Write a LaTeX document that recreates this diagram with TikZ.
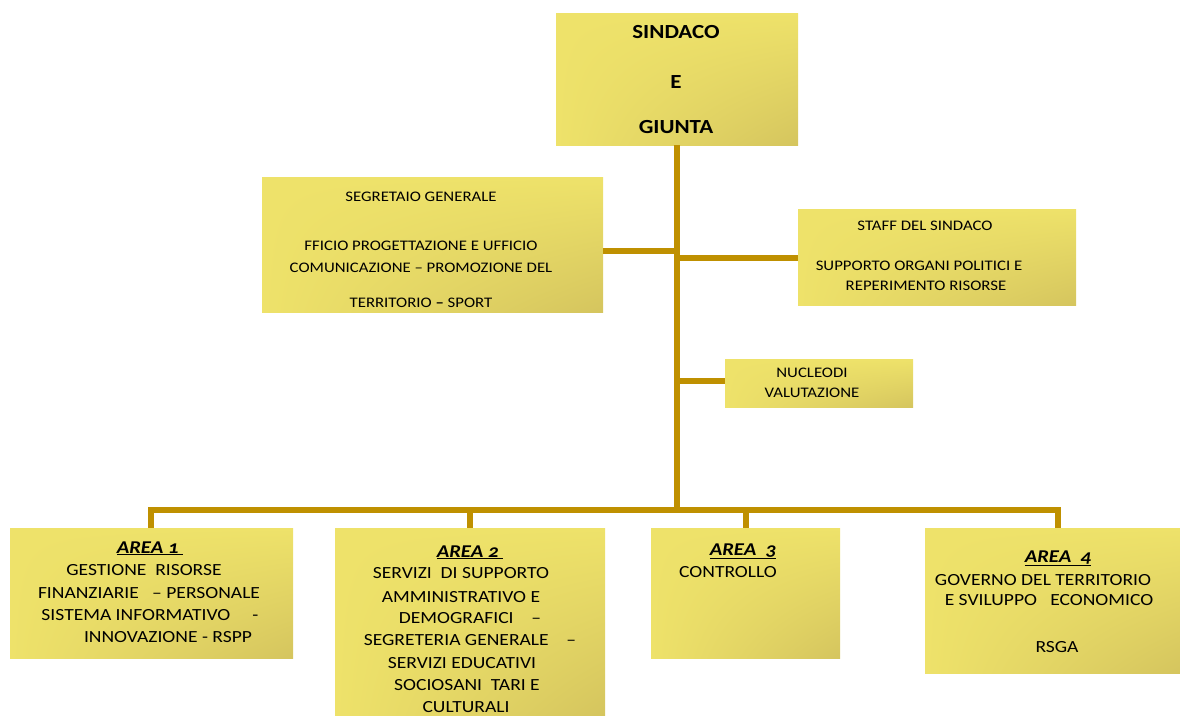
\documentclass[tikz,border=0pt]{standalone}
\usepackage{fontspec}
\setmainfont[FakeStretch=1.15]{Carlito}
\usepackage{tikz}
\usetikzlibrary{shadings}

\definecolor{linkgold}{HTML}{BF9000}
\definecolor{boxlight}{HTML}{EEE26A}
\definecolor{boxdark}{HTML}{D5C55E}

\tikzset{
  orgbox/.style={rectangle, inner sep=0pt, upper left=boxlight, upper right=boxlight,
    lower left=boxlight, lower right=boxdark},
  link/.style={draw=linkgold, line width=6pt, line join=miter},
  small/.style={anchor=base, inner sep=0pt, font=\fontsize{14.6}{16}\selectfont},
  areatxt/.style={anchor=base, inner sep=0pt, font=\fontsize{17}{19}\selectfont},
  areahead/.style={anchor=base, inner sep=0pt,
    font=\fontsize{18}{20}\selectfont\bfseries\itshape\addfontfeature{Numbers=OldStyle}}
}

\begin{document}
\begin{tikzpicture}[x=1pt,y=-1pt]

\useasboundingbox (0,0) rectangle (1180,715);

% connectors first, boxes on top
\coordinate (bus) at (677,510);
\coordinate (jsegr) at (677,251);
\coordinate (jstaff) at (677,258);
\coordinate (jnuc) at (677,381);

% boxes
\node[orgbox, minimum width=242pt, minimum height=132pt] (sindaco) at (677,79) {};
\node[orgbox, minimum width=341pt, minimum height=135pt] (segr) at (432.5,244.5) {};
\node[orgbox, minimum width=278pt, minimum height=96pt] (staff) at (937,257) {};
\node[orgbox, minimum width=188pt, minimum height=48pt] (nucleo) at (819,383) {};
\node[orgbox, minimum width=283pt, minimum height=130pt] (area1) at (151.5,593) {};
\node[orgbox, minimum width=270pt, minimum height=187pt] (area2) at (470,621.5) {};
\node[orgbox, minimum width=189pt, minimum height=130pt] (area3) at (745.5,593) {};
\node[orgbox, minimum width=255pt, minimum height=145pt] (area4) at (1052.5,600.5) {};

\draw[link] (sindaco.south) -- (bus);
\draw[link] (jsegr) -- (jsegr -| segr.east);
\draw[link] (jstaff) -- (jstaff -| staff.west);
\draw[link] (jnuc) -- (jnuc -| nucleo.west);
\draw[link] (area1.north -| 151,0) |- (bus) -| (area4.north -| 1058,0);
\draw[link] (bus -| 470,0) -- (area2.north -| 470,0);
\draw[link] (bus -| 745.5,0) -- (area3.north);

% sindaco
\foreach \y/\t in {38/SINDACO, 88/E, 133/GIUNTA}
    \node[anchor=base, inner sep=0pt, font=\fontsize{20}{22}\selectfont\bfseries] at (676,\y) {\t};

% segretario
\foreach \y/\t in {201/SEGRETAIO GENERALE, 250/FFICIO PROGETTAZIONE E UFFICIO,
    272/COMUNICAZIONE -- PROMOZIONE DEL, 307/TERRITORIO \textbf{--} SPORT}
    \node[small] at (421,\y) {\t};

% staff
\node[small] at (925,230) {STAFF DEL SINDACO};
\node[small] at (919,270) {SUPPORTO ORGANI POLITICI E};
\node[small] at (926,290) {REPERIMENTO RISORSE};

% nucleo
\node[small] at (812,377) {NUCLEODI};
\node[small] at (812,397) {VALUTAZIONE};

% area 1
\node[areahead] at (150,553) {\underline{AREA 1\ }};
\foreach \x/\y/\t in {144/575/GESTIONE\ \ RISORSE, 149/598/FINANZIARIE\ \ \ -- PERSONALE,
    150/620/SISTEMA INFORMATIVO\ \ \ \ \ -, 168/642/INNOVAZIONE - RSPP}
    \node[areatxt] at (\x,\y) {\t};

% area 2
\node[areahead] at (470,557) {\underline{AREA 2\ }};
\foreach \x/\y/\t in {461/578/SERVIZI\ \ DI SUPPORTO, 461/602/AMMINISTRATIVO E,
    470/623/DEMOGRAFICI\ \ \ \ --, 470/645/SEGRETERIA GENERALE\ \ \ \ --,
    462/668/SERVIZI EDUCATIVI, 467/690/SOCIOSANI\ \ TARI E, 466/712/CULTURALI}
    \node[areatxt] at (\x,\y) {\t};

% area 3
\node[areahead] at (743,555) {\underline{AREA\ \ 3}};
\node[areatxt] at (728,577) {CONTROLLO};

% area 4
\node[areahead] at (1058,562) {\underline{AREA\ \ 4}};
\node[areatxt] at (1043,585) {GOVERNO DEL TERRITORIO};
\node[areatxt] at (1049,605) {E SVILUPPO\ \ \ ECONOMICO};
\node[areatxt] at (1057,652) {RSGA};

\end{tikzpicture}
\end{document}
